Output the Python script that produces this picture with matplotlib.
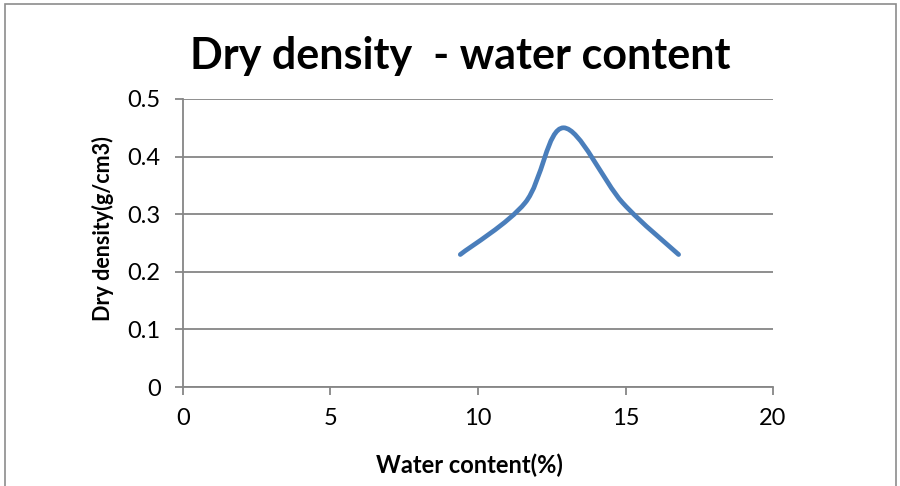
import matplotlib
matplotlib.use("Agg")
import matplotlib.pyplot as plt
from matplotlib.path import Path
from matplotlib.patches import PathPatch, Rectangle

# data
water_content = [9.4, 11.6, 12.9, 14.9, 16.8]
dry_density = [0.23, 0.32, 0.45, 0.32, 0.23]
x_ticks = [0, 5, 10, 15, 20]
y_ticks = [0, 0.1, 0.2, 0.3, 0.4, 0.5]
y_tick_labels = ["0", "0.1", "0.2", "0.3", "0.4", "0.5"]

plt.rcParams['font.family'] = ['Lato', 'DejaVu Sans']


def smooth_path(xs, ys):
    # excel-like smoothed line: catmull-rom turned into cubic bezier segments
    pts = list(zip(xs, ys))
    verts = [pts[0]]
    codes = [Path.MOVETO]
    n = len(pts)
    for i in range(n - 1):
        p0 = pts[i - 1] if i > 0 else pts[i]
        p1 = pts[i]
        p2 = pts[i + 1]
        p3 = pts[i + 2] if i + 2 < n else pts[i + 1]
        c1 = (p1[0] + (p2[0] - p0[0]) / 6, p1[1] + (p2[1] - p0[1]) / 6)
        c2 = (p2[0] - (p3[0] - p1[0]) / 6, p2[1] - (p3[1] - p1[1]) / 6)
        verts += [c1, c2, p2]
        codes += [Path.CURVE4] * 3
    return Path(verts, codes)


fig = plt.figure(figsize=(9, 4.86), dpi=100)
ax = fig.add_axes([0.2033, 0.2037, 0.6556, 0.5926])

# outer chart frame
fig.patches.append(Rectangle((5 / 900, -0.01), 891 / 900, 1 - 4 / 486 + 0.01,
                             transform=fig.transFigure, fill=False,
                             edgecolor="#8c8c8c", linewidth=1.2))

ax.add_patch(PathPatch(smooth_path(water_content, dry_density), fill=False,
                       edgecolor="#4A7EBB", linewidth=3.4, capstyle="round",
                       joinstyle="round", zorder=3))

ax.set_xlim(0, 20)
ax.set_ylim(0, 0.5)
ax.set_xticks(x_ticks)
ax.set_yticks(y_ticks)
ax.set_yticklabels(y_tick_labels)
ax.grid(axis="y", color="#868686", linewidth=1.3)
ax.set_axisbelow(True)
for side in ["top", "right"]:
    ax.spines[side].set_visible(False)
for side in ["left", "bottom"]:
    ax.spines[side].set_color("#868686")
    ax.spines[side].set_linewidth(1.3)
ax.tick_params(colors="#868686", width=1.3, length=6, labelcolor="black",
               labelsize=17)
ax.tick_params(axis="x", pad=9)
ax.tick_params(axis="y", pad=10)

fig.text(460 / 900, 1 - 56 / 486, "Dry density  - water content", fontsize=31,
         fontweight="bold", ha="center", va="center")
ax.set_xlabel("Water content(%)", fontsize=17, fontweight="bold")
ax.set_ylabel("Dry density(g/cm3)", fontsize=15.5, fontweight="bold")
ax.xaxis.set_label_coords(0.486, -0.271)
ax.yaxis.set_label_coords(-0.136, 0.549)
ax.xaxis.label.set_va("center")
ax.yaxis.label.set_va("center")

fig.savefig("out.png", dpi=100)
